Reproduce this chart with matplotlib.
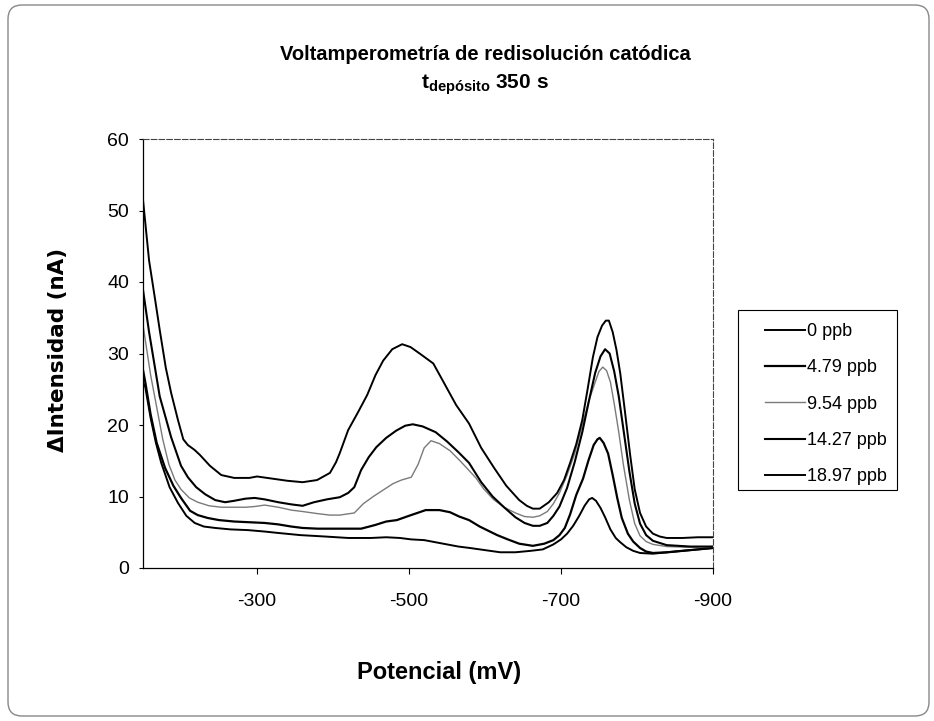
import matplotlib
matplotlib.use("Agg")
import matplotlib.pyplot as plt
from matplotlib.patches import Rectangle, FancyBboxPatch
from matplotlib.transforms import IdentityTransform

plt.rcParams['font.family'] = ['Liberation Sans', 'DejaVu Sans']
plt.rcParams['axes.unicode_minus'] = False
plt.rcParams['mathtext.fontset'] = 'custom'
plt.rcParams['mathtext.rm'] = 'Liberation Sans:bold'
plt.rcParams['mathtext.it'] = 'Liberation Sans:bold'
plt.rcParams['mathtext.bf'] = 'Liberation Sans:bold'

# potential (mV) and current (nA)
x_0 = [-150, -153, -160, -167, -174, -185, -196, -207, -218, -230, -245, -265, -288, -310, -328,
       -357, -390, -420, -450, -470, -488, -503, -520, -535, -550, -565, -580, -600, -620, -640,
       -660, -676, -690, -700, -708, -716, -724, -731, -737, -741, -746, -752, -758, -765, -772,
       -778, -786, -795, -804, -821, -840, -870, -900]
y_0 = [26.0, 25.3, 21.0, 17.5, 14.7, 11.3, 9.1, 7.3, 6.3, 5.8, 5.6, 5.4, 5.3, 5.1, 4.9,
       4.6, 4.4, 4.2, 4.2, 4.3, 4.2, 4.0, 3.9, 3.6, 3.3, 3.0, 2.8, 2.5, 2.2, 2.2,
       2.4, 2.6, 3.3, 4.0, 4.8, 5.9, 7.3, 8.7, 9.6, 9.8, 9.4, 8.4, 7.1, 5.4, 4.2,
       3.6, 2.9, 2.4, 2.1, 2.0, 2.2, 2.5, 2.8]

x_479 = [-150, -153, -160, -168, -179, -190, -200, -212, -222, -235, -250, -270, -290, -310, -328,
         -345, -360, -380, -400, -420, -437, -455, -470, -484, -500, -522, -540, -554, -566, -579,
         -593, -616, -630, -645, -663, -678, -690, -698, -705, -712, -720, -729, -736, -743, -748,
         -751, -756, -762, -768, -774, -780, -788, -795, -804, -812, -821, -840, -870, -900]
y_479 = [27.7, 26.0, 21.5, 17.5, 14.0, 11.5, 9.8, 8.0, 7.4, 7.0, 6.7, 6.5, 6.4, 6.3, 6.1,
         5.8, 5.6, 5.5, 5.5, 5.5, 5.5, 6.0, 6.5, 6.7, 7.3, 8.1, 8.1, 7.8, 7.2, 6.7,
         5.8, 4.6, 4.0, 3.4, 3.1, 3.4, 3.9, 4.6, 5.6, 7.5, 10.2, 12.5, 15.0, 17.2, 18.0,
         18.2, 17.5, 16.0, 13.0, 9.8, 7.0, 4.8, 3.7, 2.8, 2.3, 2.1, 2.2, 2.5, 2.8]

x_954 = [-150, -155, -160, -168, -176, -184, -192, -200, -211, -222, -237, -253, -270, -285, -297,
         -310, -328, -345, -360, -380, -396, -409, -428, -440, -453, -466, -479, -490, -503, -512,
         -520, -529, -540, -554, -568, -588, -598, -611, -625, -640, -652, -663, -672, -682, -690,
         -698, -708, -718, -728, -737, -745, -750, -755, -760, -765, -770, -776, -782, -790, -797,
         -804, -812, -821, -839, -870, -900]
y_954 = [34.0, 30.5, 27.0, 22.5, 18.0, 14.5, 12.3, 11.0, 9.8, 9.2, 8.7, 8.5, 8.5, 8.5, 8.6,
         8.8, 8.5, 8.1, 7.9, 7.6, 7.4, 7.4, 7.7, 9.0, 10.0, 10.9, 11.8, 12.3, 12.7, 14.5,
         16.8, 17.8, 17.4, 16.4, 14.9, 12.6, 11.1, 9.6, 8.5, 7.7, 7.2, 7.1, 7.3, 7.9, 9.0,
         10.5, 13.0, 16.0, 20.0, 23.5, 26.0, 27.5, 28.1, 27.6, 26.0, 23.0, 19.0, 14.5, 9.5, 6.2,
         4.5, 3.7, 3.3, 3.0, 2.9, 3.0]

x_1427 = [-150, -158, -165, -172, -187, -200, -209, -220, -232, -245, -258, -270, -285, -297, -310,
          -328, -345, -360, -375, -392, -409, -420, -428, -437, -447, -457, -470, -483, -495, -505,
          -518, -535, -550, -565, -579, -595, -610, -625, -640, -652, -663, -672, -682, -690, -698,
          -708, -718, -728, -737, -745, -752, -758, -764, -770, -776, -782, -790, -797, -804, -812,
          -821, -839, -870, -900]
y_1427 = [38.9, 33.0, 28.5, 24.0, 18.3, 14.3, 12.7, 11.3, 10.3, 9.5, 9.2, 9.4, 9.7, 9.8, 9.6,
          9.2, 8.9, 8.7, 9.2, 9.6, 9.9, 10.5, 11.3, 13.7, 15.5, 16.9, 18.2, 19.2, 19.9, 20.1,
          19.8, 19.0, 17.7, 16.2, 14.7, 12.0, 10.0, 8.5, 7.1, 6.3, 5.9, 5.9, 6.3, 7.3, 8.6,
          11.2, 14.8, 19.0, 23.5, 27.3, 29.6, 30.6, 30.0, 27.5, 24.0, 19.5, 13.5, 9.0, 6.2, 4.6,
          3.8, 3.2, 3.0, 3.0]

x_1897 = [-150, -158, -166, -172, -180, -187, -196, -203, -209, -218, -225, -238, -253, -270, -290,
          -300, -320, -340, -360, -379, -396, -404, -409, -420, -433, -445, -456, -466, -478, -491,
          -502, -514, -532, -546, -562, -579, -595, -612, -628, -645, -655, -663, -672, -684, -695,
          -704, -712, -720, -728, -735, -742, -748, -754, -759, -763, -768, -773, -778, -784, -791,
          -797, -804, -812, -821, -830, -839, -860, -880, -900]
y_1897 = [51.5, 43.0, 37.5, 33.3, 28.0, 24.5, 20.7, 18.0, 17.2, 16.5, 15.8, 14.3, 13.0, 12.6, 12.6,
          12.8, 12.5, 12.2, 12.0, 12.3, 13.3, 14.8, 16.1, 19.3, 21.8, 24.2, 27.0, 29.0, 30.6, 31.3,
          30.9, 30.0, 28.6, 25.9, 22.8, 20.2, 16.8, 14.0, 11.5, 9.5, 8.7, 8.3, 8.3, 9.2, 10.5,
          12.3, 14.7, 17.3, 20.7, 25.0, 29.5, 32.3, 33.9, 34.6, 34.6, 33.0, 30.5, 27.2, 22.0, 15.8,
          11.0, 7.7, 5.8, 4.8, 4.4, 4.2, 4.2, 4.3, 4.3]

series = [
    ("0 ppb", x_0, y_0, "black", 1.4),
    ("4.79 ppb", x_479, y_479, "black", 1.6),
    ("9.54 ppb", x_954, y_954, "#7a7a7a", 1.0),
    ("14.27 ppb", x_1427, y_1427, "black", 1.5),
    ("18.97 ppb", x_1897, y_1897, "black", 1.4),
]

x_ticks = [-300, -500, -700, -900]
y_ticks = [0, 10, 20, 30, 40, 50, 60]

W, H = 934, 721
fig = plt.figure(figsize=(W / 100, H / 100), dpi=100)
ax = fig.add_axes([143 / W, 1 - 568 / H, 570 / W, 429 / H])

for label, xs, ys, col, lw in series:
    ax.plot(xs, ys, color=col, lw=lw, label=label)

ax.set_xlim(-150, -900)
ax.set_ylim(0, 60)
ax.set_xticks(x_ticks)
ax.set_xticklabels([str(v) for v in x_ticks])
ax.set_yticks(y_ticks)
ax.tick_params(axis='x', length=4, width=0.8, pad=14, labelsize=14)
ax.tick_params(axis='y', length=3, width=0.8, pad=7, labelsize=14)
for s in ['left', 'bottom']:
    ax.spines[s].set_linewidth(0.9)
for s in ['top', 'right']:
    ax.spines[s].set_linewidth(0.8)
    ax.spines[s].set_color('#444444')
    ax.spines[s].set_linestyle((0, (5, 2)))

# titles
fig.text(485 / W, 1 - 55 / H, "Voltamperometría de redisolución catódica",
         ha='center', va='center', fontsize=14.5, fontweight='bold')
fig.text(485 / W, 1 - 85 / H, r"t$_{\mathrm{depósito}}$ 350 s",
         ha='center', va='center', fontsize=15, fontweight='bold')
fig.text(439 / W, 1 - 672 / H, "Potencial (mV)", ha='center', va='center',
         fontsize=17, fontweight='bold')
fig.text(58 / W, 1 - 350 / H, "\u0394Intensidad (nA)", ha='center', va='center',
         rotation=90, fontsize=15.5, fontweight='bold', family='DejaVu Sans')

# legend
fig.patches.append(Rectangle((738 / W, 1 - 490 / H), 159 / W, 180 / H,
                             transform=fig.transFigure, fill=False,
                             edgecolor='black', lw=0.8))
ax.legend(loc='upper left', bbox_to_anchor=(765 / W, 1 - 323 / H),
          bbox_transform=fig.transFigure, frameon=False, fontsize=13,
          borderaxespad=0, borderpad=0, handlelength=2.2, handletextpad=0.1,
          labelspacing=1.07)

# outer rounded border of the chart
border = FancyBboxPatch((8, 5), 921, 711, boxstyle="round,pad=0,rounding_size=14",
                        fill=False, edgecolor='#888888', lw=1.0)
border.set_transform(IdentityTransform())
fig.patches.append(border)

fig.savefig("out.png", dpi=100)
